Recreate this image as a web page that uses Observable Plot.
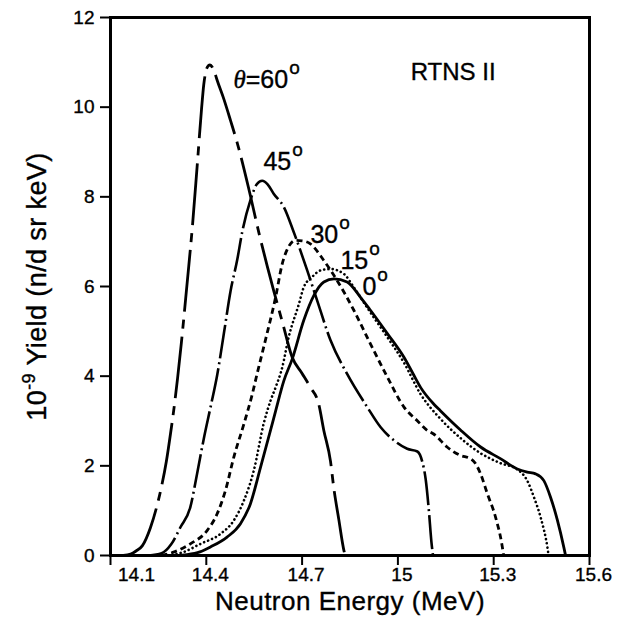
<!DOCTYPE html>
<html><head><meta charset="utf-8">
<script src="https://cdn.jsdelivr.net/npm/d3@7"></script>
<script src="https://cdn.jsdelivr.net/npm/@observablehq/plot@0.6"></script>
<style>
html,body{margin:0;padding:0;background:#fff}
#chart svg{display:block}
#chart svg text{stroke:#000;stroke-width:0.35px}
</style>
</head><body><div id="chart"></div>
<script>
// ---- data ----
const e60 = [14.14, 14.163, 14.18, 14.20, 14.225, 14.257, 14.275, 14.288, 14.30, 14.31, 14.322, 14.335, 14.345, 14.356, 14.371, 14.385, 14.392, 14.398, 14.404, 14.411, 14.418, 14.426, 14.434, 14.455, 14.476, 14.497, 14.533, 14.564, 14.591, 14.611, 14.64, 14.669, 14.70, 14.726, 14.752, 14.768, 14.789, 14.799, 14.815, 14.831, 14.835];
const y60 = [0, 0.03, 0.1, 0.22, 0.62, 1.45, 2.1, 2.72, 3.35, 3.95, 4.75, 5.7, 6.45, 7.3, 8.65, 9.95, 10.5, 10.78, 10.9, 10.94, 10.9, 10.78, 10.6, 10.18, 9.7, 9.2, 8.18, 7.22, 6.45, 5.91, 5.16, 4.42, 4.06, 3.75, 3.38, 2.79, 2.1, 1.52, 0.8, 0.11, 0];

const e45 = [14.22, 14.26, 14.29, 14.319, 14.35, 14.371, 14.392, 14.413, 14.434, 14.455, 14.476, 14.497, 14.512, 14.538, 14.558, 14.575, 14.592, 14.611, 14.643, 14.674, 14.716, 14.747, 14.789, 14.841, 14.904, 14.946, 14.987, 15.029, 15.061, 15.076, 15.087, 15.097, 15.105, 15.11];
const y45 = [0, 0.05, 0.25, 0.63, 1.08, 1.82, 2.6, 3.3, 4.02, 4.95, 5.9, 6.6, 7.2, 7.92, 8.28, 8.36, 8.28, 8.07, 7.77, 7.21, 6.36, 5.69, 4.80, 4.05, 3.31, 2.86, 2.57, 2.38, 2.32, 2.1, 1.7, 1.0, 0.3, 0];

const e30 = [14.26, 14.30, 14.35, 14.403, 14.434, 14.46, 14.486, 14.518, 14.544, 14.559, 14.585, 14.617, 14.638, 14.655, 14.679, 14.70, 14.726, 14.768, 14.81, 14.862, 14.914, 14.967, 15.019, 15.06, 15.092, 15.112, 15.154, 15.196, 15.227, 15.243, 15.259, 15.28, 15.306, 15.327, 15.331];
const y30 = [0, 0.08, 0.26, 0.56, 0.93, 1.45, 2.19, 2.94, 3.6, 4.05, 4.8, 5.76, 6.51, 6.85, 7.03, 7.02, 6.95, 6.58, 6.13, 5.47, 4.72, 3.98, 3.31, 3.01, 2.79, 2.71, 2.42, 2.23, 2.16, 2.05, 1.82, 1.38, 0.85, 0.19, 0];

const e15 = [14.28, 14.33, 14.382, 14.444, 14.486, 14.518, 14.549, 14.58, 14.601, 14.617, 14.638, 14.658, 14.69, 14.705, 14.731, 14.758, 14.789, 14.831, 14.862, 14.914, 14.967, 15.019, 15.071, 15.133, 15.196, 15.259, 15.321, 15.374, 15.405, 15.426, 15.447, 15.468, 15.472];
const y15 = [0, 0.08, 0.26, 0.48, 0.78, 1.23, 1.9, 2.95, 3.45, 3.75, 4.2, 4.87, 5.61, 5.98, 6.21, 6.36, 6.39, 6.28, 5.98, 5.42, 4.87, 4.3, 3.6, 3.05, 2.62, 2.28, 2.06, 1.92, 1.67, 1.3, 0.85, 0.19, 0];

const e0 = [14.30, 14.34, 14.38, 14.413, 14.465, 14.507, 14.538, 14.57, 14.601, 14.617, 14.643, 14.669, 14.705, 14.737, 14.768, 14.80, 14.841, 14.883, 14.914, 14.967, 15.019, 15.05, 15.071, 15.112, 15.133, 15.196, 15.259, 15.321, 15.374, 15.405, 15.431, 15.457, 15.478, 15.499, 15.52, 15.525];
const y0 = [0, 0.02, 0.08, 0.19, 0.41, 0.71, 1.15, 1.97, 2.79, 3.22, 3.9, 4.38, 5.24, 5.8, 6.1, 6.17, 6.1, 5.76, 5.47, 4.95, 4.42, 4.02, 3.75, 3.38, 3.23, 2.8, 2.42, 2.16, 1.93, 1.86, 1.82, 1.67, 1.3, 0.8, 0.17, 0];

const angleLabels = ["θ=60°", "45°", "30°", "15°", "0°"];
const angleLabelX = [14.485, 14.579, 14.726, 14.82, 14.889];
const angleLabelY = [10.42, 8.59, 6.98, 6.40, 5.80];

const noteText = ["RTNS II"];
const noteX = [15.04];
const noteY = [10.6];

const xTicks = [14.1, 14.4, 14.7, 15, 15.3, 15.6];
const yTicks = [0, 2, 4, 6, 8, 10, 12];
const xTitle = ["Neutron Energy (MeV)"];
const yTitle = ["10-9 Yield (n/d sr keV)"];

// ---- build tables ----
const toRows = (E, Y) => E.map((e, i) => ({E: e, Y: Y[i]}));
const curves = [
  {rows: toRows(e60, y60), dash: "62,8,9,8", cap: "butt", w: 2.8},
  {rows: toRows(e45, y45), dash: "34,4,2,4", cap: "butt", w: 2.6},
  {rows: toRows(e30, y30), dash: "6,4", cap: "butt", w: 2.8},
  {rows: toRows(e15, y15), dash: "0.1,4.2", cap: "round", w: 2.6},
  {rows: toRows(e0, y0), dash: null, cap: "round", w: 2.8}
];
const angleRows = angleLabels.map((t, i) => ({t, x: angleLabelX[i], y: angleLabelY[i]}));
const noteRows = noteText.map((t, i) => ({t, x: noteX[i], y: noteY[i]}));

const FONT = "'Liberation Sans', Arial, Helvetica, sans-serif";
const fmt = d => String(d);

const plot = Plot.plot({
  width: 621,
  height: 620,
  marginLeft: 110,
  marginRight: 32,
  marginTop: 17,
  marginBottom: 65,
  style: {fontFamily: FONT, fontSize: "19px", background: "#fff", color: "#000"},
  x: {domain: [14.1, 15.6], axis: null},
  y: {domain: [0, 12], axis: null},
  marks: [
    ...curves.map(c => Plot.line(c.rows, {
      x: "E", y: "Y", stroke: "#000", strokeWidth: c.w,
      strokeDasharray: c.dash || undefined, strokeLinecap: c.cap,
      strokeLinejoin: "round", curve: "monotone-x"
    })),
    Plot.axisY(yTicks, {tickSize: 10, tickPadding: 6, strokeWidth: 2, label: null, fontSize: 19, tickFormat: fmt}),
    Plot.axisX(xTicks, {tickSize: 10, strokeWidth: 2, tickFormat: () => "", label: null}),
    Plot.axisX(xTicks.slice(0, 1), {tickSize: 0, tickPadding: 12, dx: 26, label: null, fontSize: 19, tickFormat: fmt}),
    Plot.axisX(xTicks.slice(1), {tickSize: 0, tickPadding: 12, dx: 4, label: null, fontSize: 19, tickFormat: fmt}),
    Plot.frame({stroke: "#000", strokeWidth: 3}),
    Plot.text(angleRows, {x: "x", y: "y", text: "t", textAnchor: "start", lineAnchor: "bottom", fontSize: 25}),
    Plot.text(noteRows, {x: "x", y: "y", text: "t", textAnchor: "start", lineAnchor: "bottom", fontSize: 24}),
    Plot.text(xTitle, {frameAnchor: "bottom", textAnchor: "middle", dy: 54, fontSize: 26}),
    Plot.text(yTitle, {frameAnchor: "left", textAnchor: "middle", dx: -73, rotate: -90, fontSize: 27})
  ]
});

document.getElementById("chart").appendChild(plot);

// ---- rich text: superscripts and italic theta; drop empty tick texts ----
const root = d3.select(plot);
root.selectAll("text").each(function () {
  const t = d3.select(this);
  const s = t.text();
  if (s === "") { t.remove(); return; }
  if (s === yTitle[0]) {
    t.text(null).attr("letter-spacing", "0.4px");
    t.append("tspan").text("10");
    t.append("tspan").attr("font-size", "18px").attr("dy", "-11px").text("-9");
    t.append("tspan").attr("dy", "11px").text(" Yield (n/d sr keV)");
  } else if (s === xTitle[0]) {
    t.attr("letter-spacing", "0.5px");
  } else if (angleLabels.includes(s)) {
    const main = s.slice(0, -1);
    t.text(null);
    if (main.startsWith("θ")) {
      t.append("tspan").attr("font-family", "'Liberation Serif', 'DejaVu Serif', serif").attr("font-style", "italic").text("θ");
      t.append("tspan").text(main.slice(1));
    } else {
      t.append("tspan").text(main);
    }
    t.append("tspan").attr("font-size", "19px").attr("dy", "-14px").attr("dx", "1px").text("o");
  }
});
</script>
</body></html>
